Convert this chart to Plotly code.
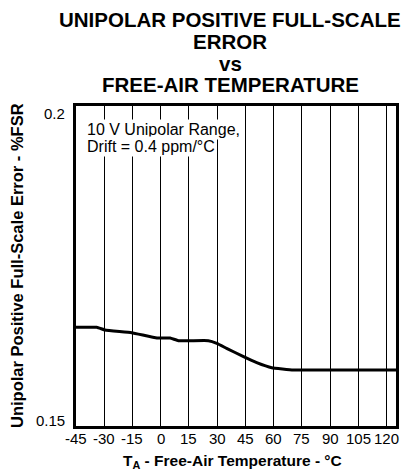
import plotly.graph_objects as go

temps = [-45, -34, -29.6, -15.4, -2, 5, 9.4, 25.3, 29.8, 35, 44, 51, 59, 70.5, 90, 105, 125]
error_fsr = [0.16542, 0.16542, 0.1650, 0.16458, 0.16375, 0.16375, 0.16333, 0.16333, 0.16292,
             0.16214, 0.16083, 0.1599, 0.1591, 0.15875, 0.15875, 0.15875, 0.15875]
x_ticks = [-45, -30, -15, 0, 15, 30, 45, 60, 75, 90, 105, 120]
x_tick_labels = ["-45", "-30", "-15", "0", "15", "30", "45", "60", "75", "90", "105", "120"]
y_ticks = [0.15, 0.2]
y_tick_labels = ["0.15", "0.2"]
title_lines = ["UNIPOLAR POSITIVE FULL-SCALE", "ERROR", "vs", "FREE-AIR TEMPERATURE"]
note_lines = ["10 V Unipolar Range,", "Drift = 0.4 ppm/°C"]

FONT = "Liberation Sans, Arial, sans-serif"
# page body has an 8px margin, so the figure is drawn 8px in from the window corner
OFF = 8
W, H = 414 - OFF, 470 - OFF
L, R, T, B = 76 - OFF, 18, 106 - OFF, 44
PH = H - T - B
PW = W - L - R

def py(pix):  # pix: window pixel
    return (H - B - (pix - OFF)) / PH

def px(pix):
    return (pix - OFF - L) / PW

fig = go.Figure()
fig.add_trace(go.Scatter(x=temps, y=error_fsr, mode="lines",
                         line=dict(color="black", width=3, shape="spline", smoothing=0.3),
                         showlegend=False, hoverinfo="skip"))

for i, txt in enumerate(title_lines):
    fig.add_annotation(text=f"<b>{txt}</b>", xref="paper", yref="paper",
                       x=px(230), y=py(20 + 21.5 * i), xanchor="center", yanchor="middle",
                       showarrow=False, font=dict(family=FONT, size=20.5, color="black"))

for i, txt in enumerate(note_lines):
    fig.add_annotation(text=txt, xref="paper", yref="paper",
                       x=px(85), y=py(129 + 17 * i), xanchor="left", yanchor="middle",
                       showarrow=False, bgcolor="white", borderpad=1,
                       font=dict(family=FONT, size=16, color="black"))

# tick labels
for v, t in zip(x_ticks, x_tick_labels):
    fig.add_annotation(text=t, xref="x", yref="paper", x=v, y=0, xanchor="center", yanchor="middle",
                       yshift=-12, showarrow=False, font=dict(family=FONT, size=15, color="black"))
for v, t, shift in zip(y_ticks, y_tick_labels, [6, -7]):
    fig.add_annotation(text=t, xref="paper", yref="y", x=0, y=v, xanchor="right", yanchor="middle",
                       xshift=-9, yshift=shift, showarrow=False,
                       font=dict(family=FONT, size=15, color="black"))

fig.add_annotation(text="<b>T<sub>A</sub> - Free-Air Temperature - °C</b>", xref="paper", yref="paper",
                   x=px(232), y=py(461), xanchor="center", yanchor="middle", showarrow=False,
                   font=dict(family=FONT, size=15.5, color="black"))
fig.add_annotation(text="<b>Unipolar Positive Full-Scale Error - %FSR</b>", xref="paper", yref="paper",
                   x=px(17), y=py(266), xanchor="center", yanchor="middle", textangle=-90, showarrow=False,
                   font=dict(family=FONT, size=16.5, color="black"))

fig.update_layout(
    width=W, height=H,
    margin=dict(l=L, r=R, t=T, b=B, autoexpand=False),
    paper_bgcolor="white", plot_bgcolor="white",
    font=dict(family=FONT, color="black"),
    xaxis=dict(range=[-45, 125], tickvals=x_ticks, showgrid=True, gridcolor="black", gridwidth=1,
               showline=True, linecolor="black", linewidth=3, mirror=True, zeroline=False,
               ticks="", showticklabels=False, automargin=False),
    yaxis=dict(range=[0.15, 0.2], tickvals=y_ticks, showgrid=False,
               showline=True, linecolor="black", linewidth=3, mirror=True, zeroline=False,
               ticks="", showticklabels=False, automargin=False),
)

fig.write_html("out.html")
